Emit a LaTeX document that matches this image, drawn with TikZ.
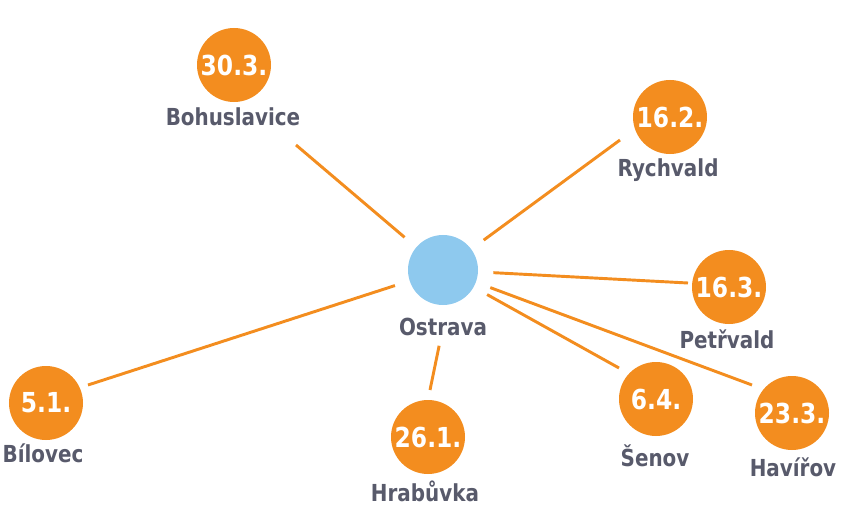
\documentclass[tikz,border=0pt]{standalone}
\usepackage{fontspec}
\setmainfont{DejaVu Sans}[FakeStretch=0.85]
\usetikzlibrary{positioning}

\definecolor{dotorange}{HTML}{F38D1F}
\definecolor{hubblue}{HTML}{8EC9EE}
\definecolor{towngray}{HTML}{585A6B}

\begin{document}
\begin{tikzpicture}[
    x=0.03cm, y=-0.03cm,
    town/.style={font=\fontsize{20}{24}\selectfont\bfseries, text=towngray},
    datedot/.style={circle, fill=dotorange, minimum size=2.22cm, inner sep=0pt,
        text=white, font=\fontsize{23.5}{28}\selectfont\bfseries},
    hub/.style={circle, fill=hubblue, minimum size=2.1cm, inner sep=0pt},
    link/.style={draw=dotorange, line width=2.5pt},
    ]

    \useasboundingbox (0,0) rectangle (842,510);

    % Centre: Ostrava
    \node[hub] (ostrava) at (443,270) {};
    \node[town] (ostrava-lbl) at (443,327) {Ostrava};

    % ==========================================
    % Towns: name / dot x,y / label x,y / line end x,y / date / text
    % ==========================================
    \foreach \name/\cx/\cy/\lx/\ly/\ex/\ey/\date/\txt in {
        bohus/234/65/233/117/296/145/30.3./Bohuslavice,
        rych/670/117/668/170/620/140/16.2./Rychvald,
        petr/729/287/727/339/688/283/16.3./Petřvald,
        havi/792/413/793/467/752/385/23.3./Havířov,
        senov/656/399/655/456/619/368/6.4./Šenov,
        hrab/428/437/425/491/430/390/26.1./Hrabůvka,
        bilo/46/403/43/453/88/385/5.1./Bílovec}
    {
        \node[datedot] (\name) at (\cx,\cy) {\date};
        \node[town] (\name-lbl) at (\lx,\ly) {\txt};
        \coordinate (\name-end) at (\ex,\ey);
    }

    % ==========================================
    % Links from Ostrava
    % ==========================================
    \foreach \name in {bohus, rych, petr, havi, senov, bilo}
        \draw[link, shorten <=13pt] (ostrava) -- (\name-end);
    \draw[link, shorten <=5pt] (ostrava-lbl) -- (hrab-end);

\end{tikzpicture}
\end{document}
